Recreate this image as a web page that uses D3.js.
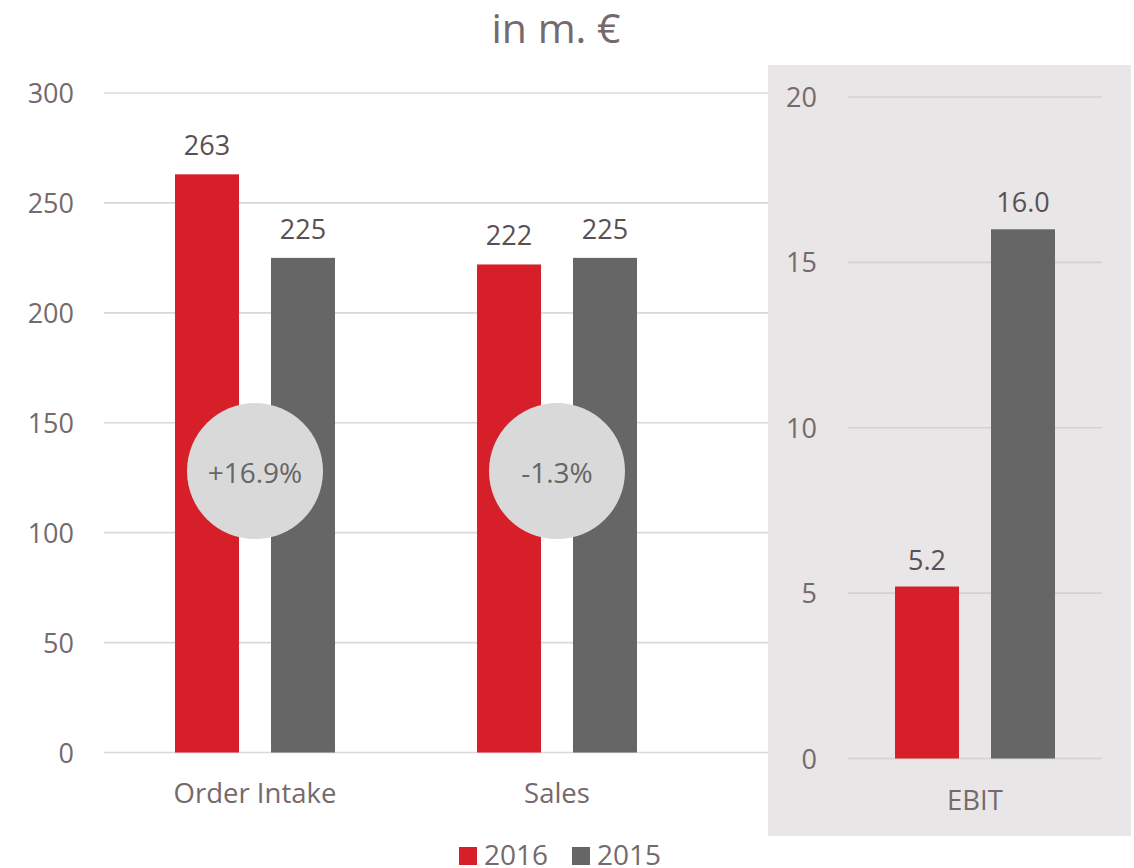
<!DOCTYPE html>
<html>
<head>
<meta charset="utf-8">
<script src="https://cdn.jsdelivr.net/npm/d3@7"></script>
<style>
  html, body { margin: 0; padding: 0; background: #ffffff; }
  svg { display: block; font-family: "Open Sans", "Noto Sans", sans-serif; }
</style>
</head>
<body>
<svg id="chart" width="1134" height="868"></svg>
<script>
// ---- data ----
const series = ["2016", "2015"];
const leftCategories = ["Order Intake", "Sales"];
const values2016 = [263, 222];
const values2015 = [225, 225];
const changeLabels = ["+16.9%", "-1.3%"];
const rightCategories = ["EBIT"];
const ebit2016 = [5.2];
const ebit2015 = [16.0];
const leftTicks = [0, 50, 100, 150, 200, 250, 300];
const rightTicks = [0, 5, 10, 15, 20];
const title = "in m. €";
const circleLevel = 128; // value level where the change bubbles sit

// ---- styles ----
const RED = "#d71f29", GRAY = "#666666";
const colors = { "2016": RED, "2015": GRAY };
const tickColor = "#76696c", valueColor = "#5a5053", gridColor = "#dcd7d9";

const svg = d3.select("#chart");

// title
svg.append("text").attr("x", 556).attr("y", 43).attr("text-anchor", "middle")
  .attr("font-size", 41).attr("fill", tickColor).text(title);

// right panel background
svg.append("rect").attr("x", 768).attr("y", 65).attr("width", 363).attr("height", 771)
  .attr("fill", "#e8e6e7");

// ---- left chart ----
const yL = d3.scaleLinear().domain([0, 300]).range([752.5, 93]);
const xL = d3.scaleBand().domain(leftCategories).range([104, 708]);
const subSpan = 160;
const xSubL = d3.scaleBand().domain(series)
  .range([xL.bandwidth() / 2 - subSpan / 2, xL.bandwidth() / 2 + subSpan / 2]).paddingInner(1 / 3);

const gl = svg.append("g");
gl.selectAll("line.grid").data(leftTicks).join("line")
  .attr("x1", 104).attr("x2", 768)
  .attr("y1", d => yL(d)).attr("y2", d => yL(d))
  .attr("stroke", gridColor).attr("stroke-width", 1.6);
gl.selectAll("text.tick").data(leftTicks).join("text")
  .attr("x", 74).attr("y", d => yL(d) + 10).attr("text-anchor", "end")
  .attr("font-size", 27).attr("fill", tickColor).text(d => d);

const leftData = [];
leftCategories.forEach((c, i) => {
  leftData.push({ cat: c, s: "2016", v: values2016[i] });
  leftData.push({ cat: c, s: "2015", v: values2015[i] });
});
gl.selectAll("rect.bar").data(leftData).join("rect")
  .attr("x", d => xL(d.cat) + xSubL(d.s)).attr("width", xSubL.bandwidth())
  .attr("y", d => yL(d.v)).attr("height", d => yL(0) - yL(d.v))
  .attr("fill", d => colors[d.s]);
gl.selectAll("text.val").data(leftData).join("text")
  .attr("x", d => xL(d.cat) + xSubL(d.s) + xSubL.bandwidth() / 2)
  .attr("y", d => yL(d.v) - 19).attr("text-anchor", "middle")
  .attr("font-size", 27).attr("fill", valueColor).text(d => d3.format("d")(d.v));

// change bubbles
gl.selectAll("circle.bub").data(leftCategories).join("circle")
  .attr("cx", d => xL(d) + xL.bandwidth() / 2).attr("cy", yL(circleLevel)).attr("r", 68)
  .attr("fill", "#d9d9d9");
gl.selectAll("text.chg").data(leftCategories).join("text")
  .attr("x", d => xL(d) + xL.bandwidth() / 2).attr("y", yL(circleLevel) + 12)
  .attr("text-anchor", "middle").attr("font-size", 28).attr("fill", "#666666")
  .text((d, i) => changeLabels[i]);

// category labels
gl.selectAll("text.cat").data(leftCategories).join("text")
  .attr("x", d => xL(d) + xL.bandwidth() / 2).attr("y", 803)
  .attr("text-anchor", "middle").attr("font-size", 27.5).attr("fill", tickColor).text(d => d);

// ---- right chart ----
const yR = d3.scaleLinear().domain([0, 20]).range([758.5, 97]);
const xR = d3.scaleBand().domain(rightCategories).range([848, 1102]);
const xSubR = d3.scaleBand().domain(series)
  .range([xR.bandwidth() / 2 - subSpan / 2, xR.bandwidth() / 2 + subSpan / 2]).paddingInner(1 / 3);

const gr = svg.append("g");
gr.selectAll("line.grid").data(rightTicks).join("line")
  .attr("x1", 848).attr("x2", 1102)
  .attr("y1", d => yR(d)).attr("y2", d => yR(d))
  .attr("stroke", "#d6d0d2").attr("stroke-width", 1.6);
gr.selectAll("text.tick").data(rightTicks).join("text")
  .attr("x", 817).attr("y", d => yR(d) + 10).attr("text-anchor", "end")
  .attr("font-size", 27).attr("fill", tickColor).text(d => d);

const rightData = [];
rightCategories.forEach((c, i) => {
  rightData.push({ cat: c, s: "2016", v: ebit2016[i] });
  rightData.push({ cat: c, s: "2015", v: ebit2015[i] });
});
gr.selectAll("rect.bar").data(rightData).join("rect")
  .attr("x", d => xR(d.cat) + xSubR(d.s)).attr("width", xSubR.bandwidth())
  .attr("y", d => yR(d.v)).attr("height", d => yR(0) - yR(d.v))
  .attr("fill", d => colors[d.s]);
gr.selectAll("text.val").data(rightData).join("text")
  .attr("x", d => xR(d.cat) + xSubR(d.s) + xSubR.bandwidth() / 2)
  .attr("y", d => yR(d.v) - 17).attr("text-anchor", "middle")
  .attr("font-size", 27).attr("fill", valueColor).text(d => d3.format(".1f")(d.v));
gr.selectAll("text.cat").data(rightCategories).join("text")
  .attr("x", d => xR(d) + xR.bandwidth() / 2).attr("y", 810)
  .attr("text-anchor", "middle").attr("font-size", 27.5).attr("fill", tickColor).text(d => d);

// ---- legend ----
const legendX = { "2016": 459, "2015": 572 };
const lg = svg.append("g");
lg.selectAll("rect").data(series).join("rect")
  .attr("x", d => legendX[d]).attr("y", 847).attr("width", 18).attr("height", 18)
  .attr("fill", d => colors[d]);
lg.selectAll("text").data(series).join("text")
  .attr("x", d => legendX[d] + 25).attr("y", 865)
  .attr("font-size", 28).attr("fill", tickColor).text(d => d);
</script>
</body>
</html>
